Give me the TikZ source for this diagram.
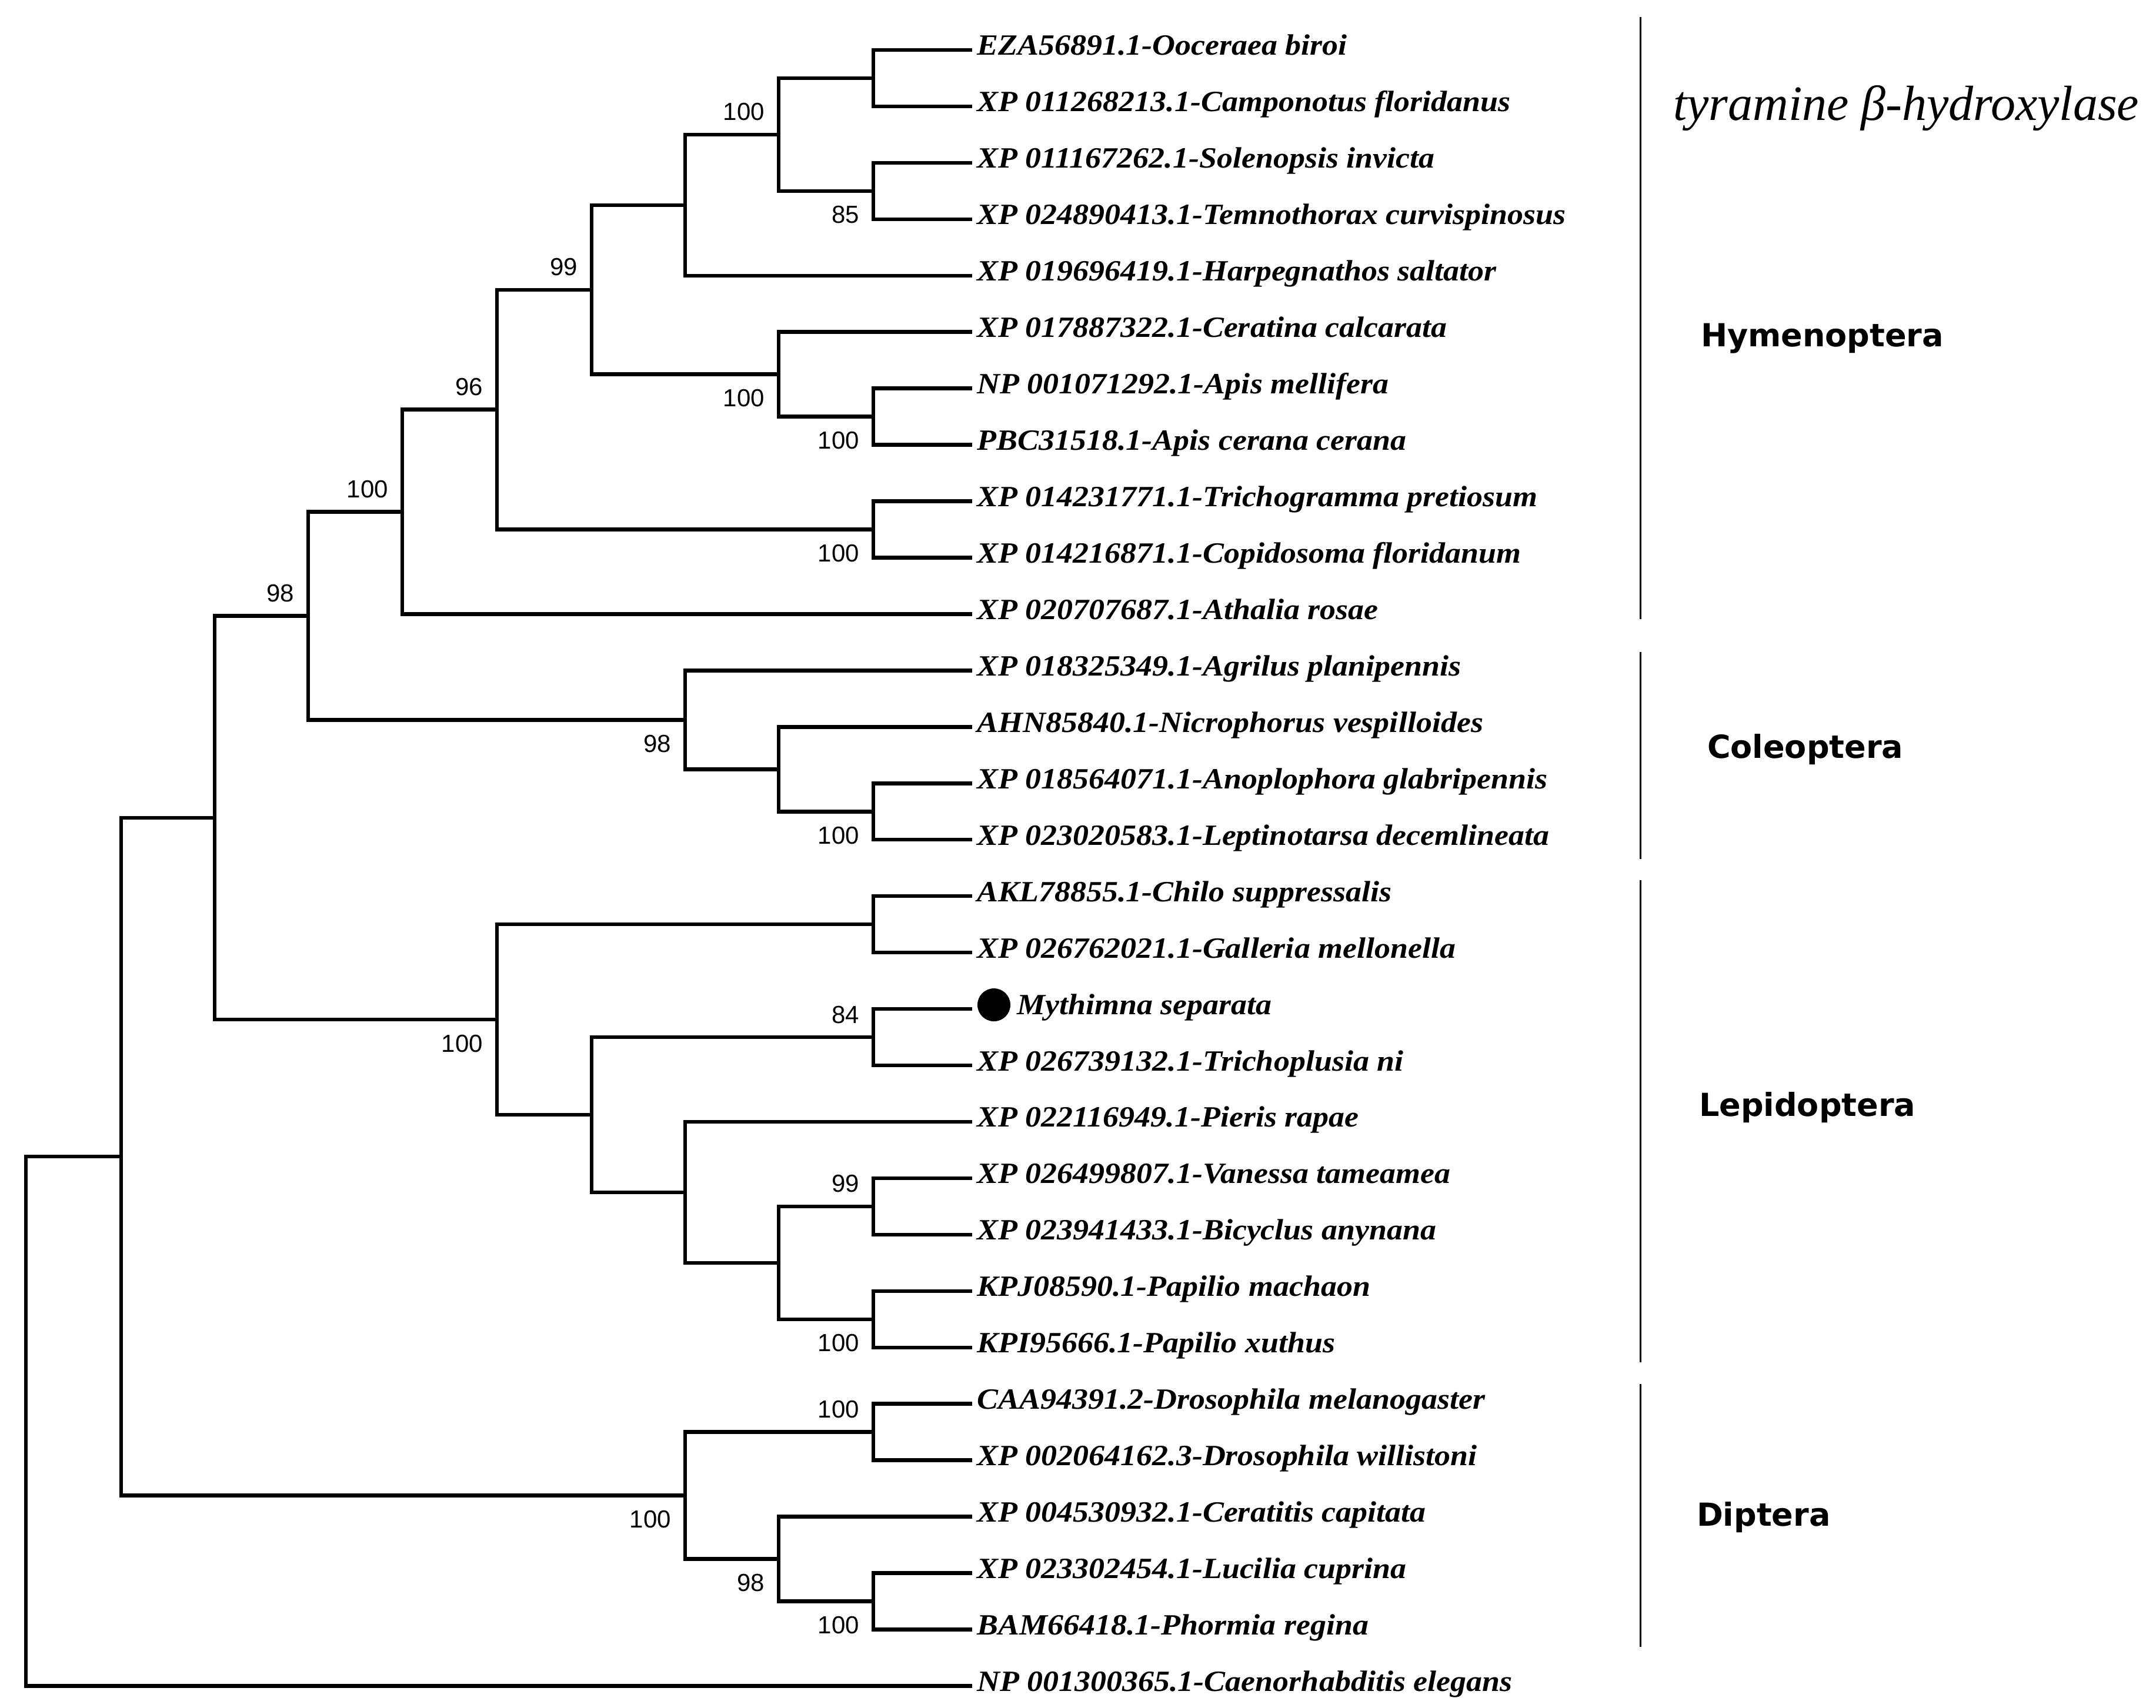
\documentclass[tikz,border=0pt]{standalone}
\usepackage{fontspec}
\newfontfamily\leaffont[FakeStretch=1.08]{Liberation Serif}
\newfontfamily\bsfont{Liberation Sans}
\newfontfamily\grpfont{DejaVu Sans}
\newfontfamily\titlefont{Liberation Serif}
\tikzset{
  branch/.style={line width=0.65pt, line join=miter, line cap=rect},
  leaftxt/.style={anchor=base west, inner sep=0pt, font=\leaffont\bfseries\itshape\fontsize{5}{6}\selectfont},
  bsa/.style={anchor=base east, inner sep=0pt, font=\bsfont\fontsize{4.2}{5}\selectfont},
  grplabel/.style={anchor=base west, inner sep=0pt, font=\grpfont\bfseries\fontsize{5.4}{6}\selectfont},
  grpbar/.style={line width=0.3pt},
}
\begin{document}
\begin{tikzpicture}[x=0.1pt, y=-9.595pt]
\useasboundingbox[fill=white] (0,0.1141) rectangle (3666,30.3898);
% leaf ends
\foreach \i in {1,...,30} { \coordinate (l\i) at (1650,\i); }
% internal nodes
\coordinate (nA) at (1485,1.5);
\coordinate (nB) at (1485,3.5);
\coordinate (nC) at (1324,2.5);
\coordinate (nD) at (1165,3.75);
\coordinate (nE) at (1485,7.5);
\coordinate (nF) at (1324,6.75);
\coordinate (nG) at (1006,5.25);
\coordinate (nH) at (1485,9.5);
\coordinate (nI) at (845,7.375);
\coordinate (nJ) at (684,9.1875);
\coordinate (nK) at (1485,14.5);
\coordinate (nL) at (1324,13.75);
\coordinate (nM) at (1165,12.875);
\coordinate (nN) at (524,11.03125);
\coordinate (nO) at (1485,16.5);
\coordinate (nP) at (1485,18.5);
\coordinate (nQ) at (1485,21.5);
\coordinate (nR) at (1485,23.5);
\coordinate (nS) at (1324,22.5);
\coordinate (nT) at (1165,21.25);
\coordinate (nU) at (1006,19.875);
\coordinate (nV) at (845,18.1875);
\coordinate (nW) at (365,14.609375);
\coordinate (nX) at (1485,25.5);
\coordinate (nY) at (1485,28.5);
\coordinate (nZ) at (1324,27.75);
\coordinate (nAA) at (1165,26.625);
\coordinate (nBB) at (206,20.6171875);
\coordinate (nRoot) at (44,25.30859375);
% branches
\draw[branch] (l1) -| (nA) |- (l2);
\draw[branch] (l3) -| (nB) |- (l4);
\draw[branch] (nA) -| (nC) |- (nB);
\draw[branch] (nC) -| (nD) |- (l5);
\draw[branch] (l7) -| (nE) |- (l8);
\draw[branch] (l6) -| (nF) |- (nE);
\draw[branch] (nD) -| (nG) |- (nF);
\draw[branch] (l9) -| (nH) |- (l10);
\draw[branch] (nG) -| (nI) |- (nH);
\draw[branch] (nI) -| (nJ) |- (l11);
\draw[branch] (l14) -| (nK) |- (l15);
\draw[branch] (l13) -| (nL) |- (nK);
\draw[branch] (l12) -| (nM) |- (nL);
\draw[branch] (nJ) -| (nN) |- (nM);
\draw[branch] (l16) -| (nO) |- (l17);
\draw[branch] (l18) -| (nP) |- (l19);
\draw[branch] (l21) -| (nQ) |- (l22);
\draw[branch] (l23) -| (nR) |- (l24);
\draw[branch] (nQ) -| (nS) |- (nR);
\draw[branch] (l20) -| (nT) |- (nS);
\draw[branch] (nP) -| (nU) |- (nT);
\draw[branch] (nO) -| (nV) |- (nU);
\draw[branch] (nN) -| (nW) |- (nV);
\draw[branch] (l25) -| (nX) |- (l26);
\draw[branch] (l28) -| (nY) |- (l29);
\draw[branch] (l27) -| (nZ) |- (nY);
\draw[branch] (nX) -| (nAA) |- (nZ);
\draw[branch] (nW) -| (nBB) |- (nAA);
\draw[branch] (nBB) -| (nRoot) |- (l30);
% bootstrap values
\node[bsa] (bB) at ([xshift=-2.2pt,yshift=-5.5pt]nB) {85};
\node[bsa] (bC) at ([xshift=-2.2pt,yshift=2.4pt]nC) {100};
\node[bsa] (bE) at ([xshift=-2.2pt,yshift=-5.5pt]nE) {100};
\node[bsa] (bF) at ([xshift=-2.2pt,yshift=-5.5pt]nF) {100};
\node[bsa] (bG) at ([xshift=-2.2pt,yshift=2.4pt]nG) {99};
\node[bsa] (bH) at ([xshift=-2.2pt,yshift=-5.5pt]nH) {100};
\node[bsa] (bI) at ([xshift=-2.2pt,yshift=2.4pt]nI) {96};
\node[bsa] (bJ) at ([xshift=-2.2pt,yshift=2.4pt]nJ) {100};
\node[bsa] (bK) at ([xshift=-2.2pt,yshift=-5.5pt]nK) {100};
\node[bsa] (bM) at ([xshift=-2.2pt,yshift=-5.5pt]nM) {98};
\node[bsa] (bN) at ([xshift=-2.2pt,yshift=2.4pt]nN) {98};
\node[bsa] (bP) at ([xshift=-2.2pt,yshift=2.4pt]nP) {84};
\node[bsa] (bQ) at ([xshift=-2.2pt,yshift=2.4pt]nQ) {99};
\node[bsa] (bR) at ([xshift=-2.2pt,yshift=-5.5pt]nR) {100};
\node[bsa] (bV) at ([xshift=-2.2pt,yshift=-5.5pt]nV) {100};
\node[bsa] (bX) at ([xshift=-2.2pt,yshift=2.4pt]nX) {100};
\node[bsa] (bY) at ([xshift=-2.2pt,yshift=-5.5pt]nY) {100};
\node[bsa] (bZ) at ([xshift=-2.2pt,yshift=-5.5pt]nZ) {98};
\node[bsa] (bAA) at ([xshift=-2.2pt,yshift=-5.5pt]nAA) {100};
% leaf labels
\node[leaftxt] (t1) at ([xshift=0.9pt,yshift=-0.9pt]l1) {EZA56891.1-Ooceraea biroi};
\node[leaftxt] (t2) at ([xshift=0.9pt,yshift=-0.9pt]l2) {XP 011268213.1-Camponotus floridanus};
\node[leaftxt] (t3) at ([xshift=0.9pt,yshift=-0.9pt]l3) {XP 011167262.1-Solenopsis invicta};
\node[leaftxt] (t4) at ([xshift=0.9pt,yshift=-0.9pt]l4) {XP 024890413.1-Temnothorax curvispinosus};
\node[leaftxt] (t5) at ([xshift=0.9pt,yshift=-0.9pt]l5) {XP 019696419.1-Harpegnathos saltator};
\node[leaftxt] (t6) at ([xshift=0.9pt,yshift=-0.9pt]l6) {XP 017887322.1-Ceratina calcarata};
\node[leaftxt] (t7) at ([xshift=0.9pt,yshift=-0.9pt]l7) {NP 001071292.1-Apis mellifera};
\node[leaftxt] (t8) at ([xshift=0.9pt,yshift=-0.9pt]l8) {PBC31518.1-Apis cerana cerana};
\node[leaftxt] (t9) at ([xshift=0.9pt,yshift=-0.9pt]l9) {XP 014231771.1-Trichogramma pretiosum};
\node[leaftxt] (t10) at ([xshift=0.9pt,yshift=-0.9pt]l10) {XP 014216871.1-Copidosoma floridanum};
\node[leaftxt] (t11) at ([xshift=0.9pt,yshift=-0.9pt]l11) {XP 020707687.1-Athalia rosae};
\node[leaftxt] (t12) at ([xshift=0.9pt,yshift=-0.9pt]l12) {XP 018325349.1-Agrilus planipennis};
\node[leaftxt] (t13) at ([xshift=0.9pt,yshift=-0.9pt]l13) {AHN85840.1-Nicrophorus vespilloides};
\node[leaftxt] (t14) at ([xshift=0.9pt,yshift=-0.9pt]l14) {XP 018564071.1-Anoplophora glabripennis};
\node[leaftxt] (t15) at ([xshift=0.9pt,yshift=-0.9pt]l15) {XP 023020583.1-Leptinotarsa decemlineata};
\node[leaftxt] (t16) at ([xshift=0.9pt,yshift=-0.9pt]l16) {AKL78855.1-Chilo suppressalis};
\node[leaftxt] (t17) at ([xshift=0.9pt,yshift=-0.9pt]l17) {XP 026762021.1-Galleria mellonella};
\node[circle, fill=black, inner sep=0pt, minimum size=5.6pt] (dot) at ([xshift=4pt,yshift=0.7pt]l18) {};
\node[leaftxt] (t18) at ([xshift=7.7pt,yshift=-0.9pt]l18) {Mythimna separata};
\node[leaftxt] (t19) at ([xshift=0.9pt,yshift=-0.9pt]l19) {XP 026739132.1-Trichoplusia ni};
\node[leaftxt] (t20) at ([xshift=0.9pt,yshift=-0.9pt]l20) {XP 022116949.1-Pieris rapae};
\node[leaftxt] (t21) at ([xshift=0.9pt,yshift=-0.9pt]l21) {XP 026499807.1-Vanessa tameamea};
\node[leaftxt] (t22) at ([xshift=0.9pt,yshift=-0.9pt]l22) {XP 023941433.1-Bicyclus anynana};
\node[leaftxt] (t23) at ([xshift=0.9pt,yshift=-0.9pt]l23) {KPJ08590.1-Papilio machaon};
\node[leaftxt] (t24) at ([xshift=0.9pt,yshift=-0.9pt]l24) {KPI95666.1-Papilio xuthus};
\node[leaftxt] (t25) at ([xshift=0.9pt,yshift=-0.9pt]l25) {CAA94391.2-Drosophila melanogaster};
\node[leaftxt] (t26) at ([xshift=0.9pt,yshift=-0.9pt]l26) {XP 002064162.3-Drosophila willistoni};
\node[leaftxt] (t27) at ([xshift=0.9pt,yshift=-0.9pt]l27) {XP 004530932.1-Ceratitis capitata};
\node[leaftxt] (t28) at ([xshift=0.9pt,yshift=-0.9pt]l28) {XP 023302454.1-Lucilia cuprina};
\node[leaftxt] (t29) at ([xshift=0.9pt,yshift=-0.9pt]l29) {BAM66418.1-Phormia regina};
\node[leaftxt] (t30) at ([xshift=0.9pt,yshift=-0.9pt]l30) {NP 001300365.1-Caenorhabditis elegans};
% group bars
\coordinate (hy1) at (2789,0.4164);  \coordinate (hy2) at (2789,11.088);
\coordinate (co1) at (2789,11.672);  \coordinate (co2) at (2789,15.341);
\coordinate (le1) at (2789,15.716);  \coordinate (le2) at (2789,24.262);
\coordinate (di1) at (2789,24.648);  \coordinate (di2) at (2789,29.306);
\draw[grpbar] (hy1) -- (hy2);
\draw[grpbar] (co1) -- (co2);
\draw[grpbar] (le1) -- (le2);
\draw[grpbar] (di1) -- (di2);
% group labels
\node[anchor=base west, inner sep=0pt, font=\titlefont\itshape\fontsize{8.4}{9}\selectfont] (title) at (2843,2.2506) {tyramine β-hydroxylase};
\node[grplabel] (gHy) at (2890,6.263) {Hymenoptera};
\node[grplabel] (gCo) at (2901,13.559) {Coleoptera};
\node[grplabel] (gLe) at (2887,19.905) {Lepidoptera};
\node[grplabel] (gDi) at (2883,27.170) {Diptera};
\end{tikzpicture}
\end{document}
